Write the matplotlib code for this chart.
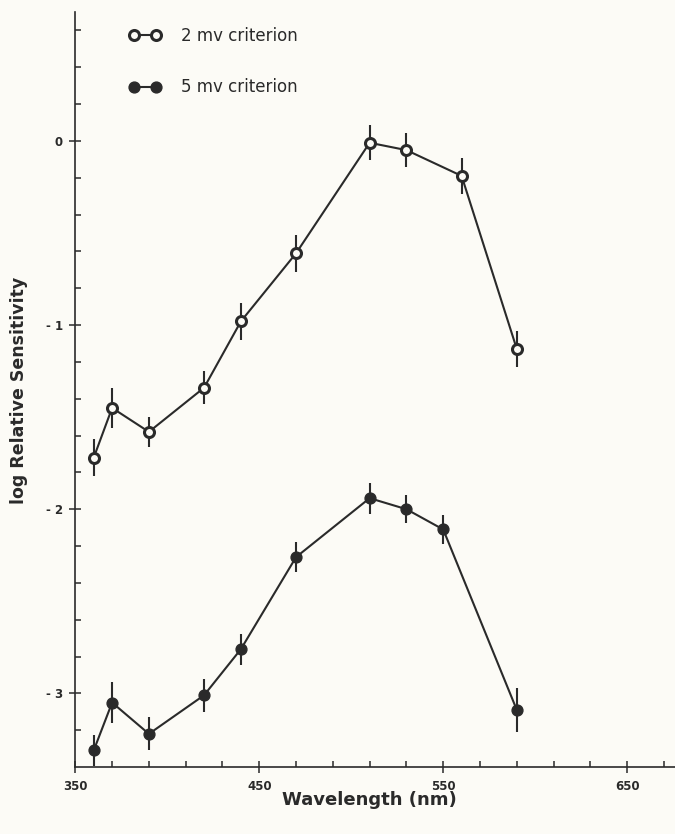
import numpy as np
import matplotlib
matplotlib.use("Agg")
import matplotlib.pyplot as plt
from matplotlib.ticker import FixedLocator, FuncFormatter
from matplotlib.lines import Line2D

# Data
wl_2mv = [360, 370, 390, 420, 440, 470, 510, 530, 560, 590]
sens_2mv = [-1.72, -1.45, -1.58, -1.34, -0.98, -0.61, -0.01, -0.05, -0.19, -1.13]
err_2mv = [0.10, 0.11, 0.08, 0.09, 0.10, 0.10, 0.095, 0.094, 0.098, 0.10]

wl_5mv = [360, 370, 390, 420, 440, 470, 510, 530, 550, 590]
sens_5mv = [-3.31, -3.05, -3.22, -3.01, -2.76, -2.26, -1.94, -2.00, -2.11, -3.09]
err_5mv = [0.085, 0.11, 0.09, 0.09, 0.085, 0.082, 0.084, 0.077, 0.078, 0.12]

label_2mv = "2 mv criterion"
label_5mv = "5 mv criterion"
xlabel = "Wavelength (nm)"
ylabel = "log Relative Sensitivity"
xticks_major = [350, 450, 550, 650]
yticks_major = [0, -1, -2, -3]

bg = "#fcfbf6"
ink = "#2a2a2a"

fig = plt.figure(figsize=(6.75, 8.34), dpi=100, facecolor=bg)
ax = fig.add_axes([0.1116, 0.0803, 0.8884, 0.9053], facecolor=bg)

open_style = dict(color=ink, lw=1.5, marker='o', ms=7.2, mfc=bg, mec=ink, mew=2.2)
fill_style = dict(color=ink, lw=1.5, marker='o', ms=7.8, mfc=ink, mec=ink, mew=1)

ax.errorbar(wl_2mv, sens_2mv, yerr=err_2mv, elinewidth=1.5, capsize=0,
            zorder=3, **open_style)
ax.errorbar(wl_5mv, sens_5mv, yerr=err_5mv, elinewidth=1.5, capsize=0,
            zorder=3, **fill_style)

ax.set_xlim(350, 676)
ax.set_ylim(-3.40, 0.70)

for s in ['top', 'right']:
    ax.spines[s].set_visible(False)
for s in ['left', 'bottom']:
    ax.spines[s].set_color(ink)
    ax.spines[s].set_linewidth(1.2)

ax.xaxis.set_major_locator(FixedLocator(xticks_major))
ax.xaxis.set_minor_locator(FixedLocator(np.arange(350, 680, 20)))
ax.yaxis.set_major_locator(FixedLocator(yticks_major))
ax.yaxis.set_minor_locator(FixedLocator(np.arange(-3.2, 0.7, 0.2)))

ax.tick_params(axis='both', which='major', direction='inout', length=8,
               width=1.1, color=ink, labelcolor=ink)
ax.tick_params(axis='both', which='minor', direction='in', length=4,
               width=1.1, color=ink)
ax.tick_params(axis='x', which='major', pad=5, labelsize=8.5)
ax.tick_params(axis='y', which='major', pad=5, labelsize=8.5)
ax.yaxis.set_major_formatter(FuncFormatter(lambda v, p: "0" if v == 0 else "- %d" % abs(v)))
for lab in ax.get_xticklabels() + ax.get_yticklabels():
    lab.set_fontweight('bold')
    lab.set_family('DejaVu Sans')

ax.set_xlabel(xlabel, fontsize=13, fontweight='bold', color=ink,
              family='DejaVu Sans', va='center')
ax.xaxis.set_label_coords((370 - 75.3) / 600, -(800 - 767) / 755)
ax.set_ylabel(ylabel, fontsize=12.5, fontweight='bold', color=ink,
              family='DejaVu Sans', va='center')
ax.yaxis.set_label_coords(-(75.3 - 19) / 600, (767 - 390) / 755)

handles = [Line2D([], [], **open_style), Line2D([], [], **fill_style)]
leg = ax.legend(handles, [label_2mv, label_5mv], loc='upper left',
                bbox_to_anchor=(0.065, 1.0), frameon=False, numpoints=2,
                handlelength=1.9, handletextpad=1.2, labelspacing=2.0,
                prop={'family': 'DejaVu Sans', 'size': 12})
for t in leg.get_texts():
    t.set_color(ink)

fig.savefig("out.png", dpi=100, facecolor=bg)
